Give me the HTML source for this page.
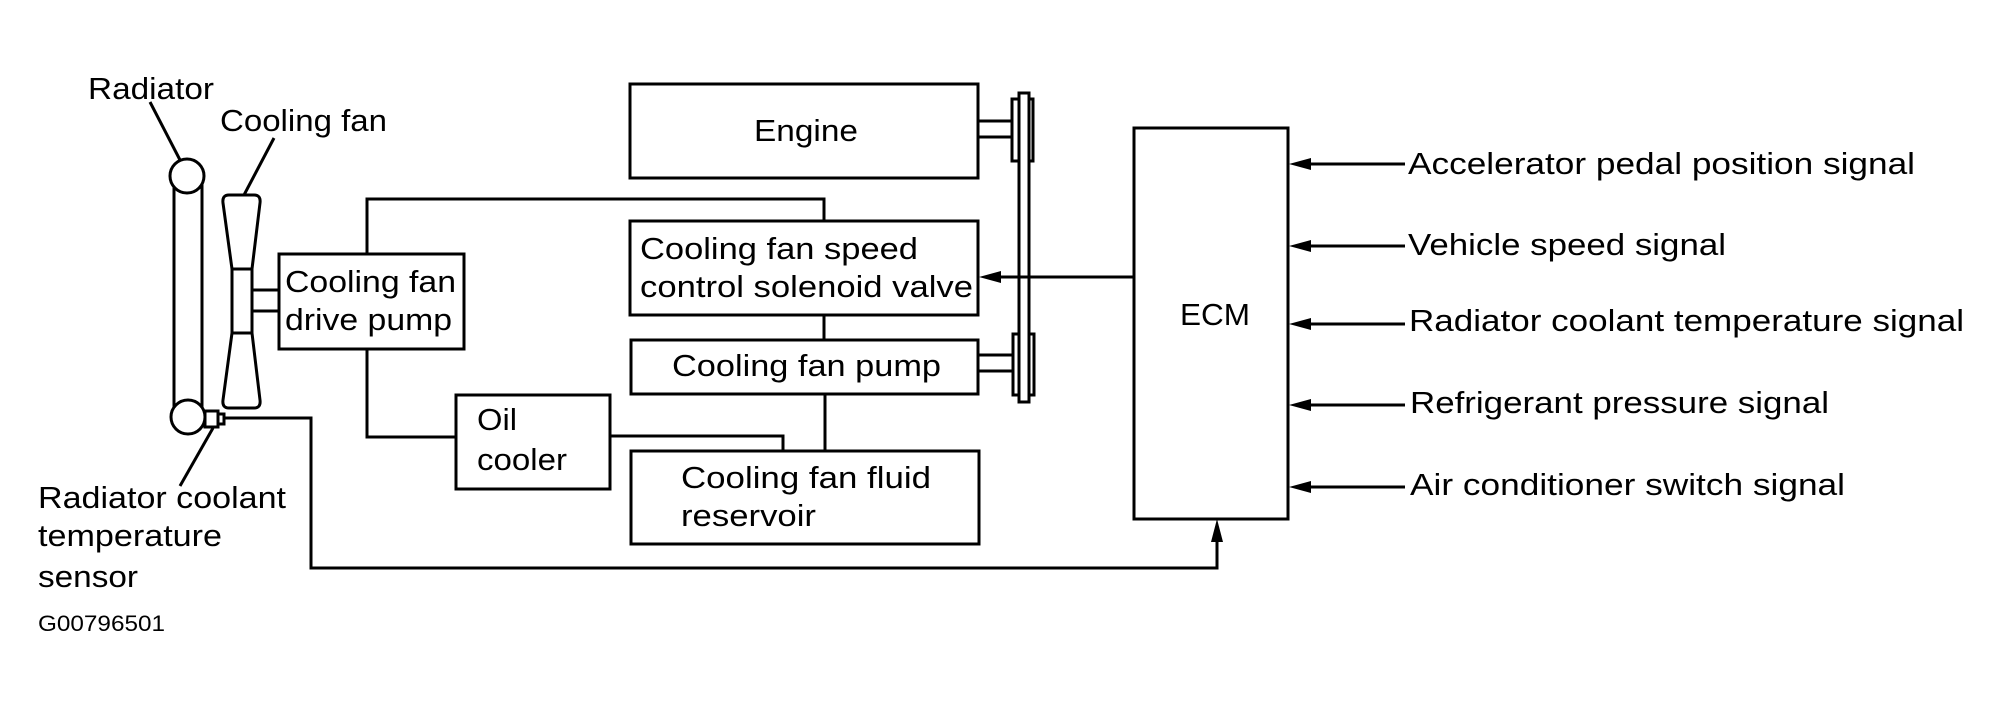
<!DOCTYPE html>
<html><head><meta charset="utf-8"><style>
html,body{margin:0;padding:0;background:#fff;}
svg{display:block;}
text{font-family:"Liberation Sans",Arial,sans-serif;font-size:31px;fill:#000;}
</style></head><body>
<svg width="2001" height="708" viewBox="0 0 2001 708" xmlns="http://www.w3.org/2000/svg">
<g fill="none" stroke="#000" stroke-width="3">
<line x1="174" y1="176" x2="174" y2="417"/>
<line x1="202" y1="176" x2="202" y2="417"/>
<circle cx="187" cy="176" r="17" fill="#fff"/>
<circle cx="188" cy="417" r="17" fill="#fff"/>
<rect x="205" y="411" width="13" height="16" fill="#fff"/>
<rect x="218" y="414" width="6" height="10" fill="#fff"/>
<line x1="150" y1="102" x2="180" y2="160"/>
<line x1="213" y1="428" x2="180" y2="486"/>
<path d="M229 195 L254 195 Q261 195 260 203 L252 269 L252 333 L260 400 Q261 408 254 408 L229 408 Q222 408 223 400 L232 333 L232 269 L223 203 Q222 195 229 195 Z"/>
<line x1="232" y1="269" x2="252" y2="269"/>
<line x1="232" y1="333" x2="252" y2="333"/>
<line x1="274" y1="138" x2="244" y2="195"/>
<line x1="252" y1="290" x2="279" y2="290"/>
<line x1="252" y1="311" x2="279" y2="311"/>
<rect x="279" y="254" width="185" height="95"/>
<rect x="456" y="395" width="154" height="94"/>
<rect x="630" y="84" width="348" height="94"/>
<rect x="630" y="221" width="348" height="94"/>
<rect x="631" y="340" width="347" height="54"/>
<rect x="631" y="451" width="348" height="93"/>
<rect x="1134" y="128" width="154" height="391"/>
<polyline points="367,254 367,199 824,199 824,221"/>
<line x1="824" y1="315" x2="824" y2="340"/>
<polyline points="367,349 367,437 456,437"/>
<polyline points="610,436 783,436 783,451"/>
<line x1="825" y1="394" x2="825" y2="451"/>
<polyline points="224,418 311,418 311,568 1217,568 1217,540"/>
<line x1="978" y1="121" x2="1012" y2="121"/>
<line x1="978" y1="137" x2="1012" y2="137"/>
<line x1="978" y1="355" x2="1013" y2="355"/>
<line x1="978" y1="371" x2="1013" y2="371"/>
<rect x="1012" y="99" width="21" height="62" fill="#fff"/>
<rect x="1013" y="334" width="21" height="61" fill="#fff"/>
<rect x="1019" y="93" width="10" height="309" fill="#fff"/>
<line x1="1134" y1="277" x2="995" y2="277"/>
<line x1="1405" y1="164" x2="1305" y2="164"/>
<line x1="1405" y1="246" x2="1305" y2="246"/>
<line x1="1405" y1="324" x2="1305" y2="324"/>
<line x1="1405" y1="405" x2="1305" y2="405"/>
<line x1="1405" y1="487" x2="1305" y2="487"/>
</g>
<g fill="#000">
<polygon points="979,277 1001,271 1001,283"/>
<polygon points="1289,164 1311,158 1311,170"/>
<polygon points="1289,246 1311,240 1311,252"/>
<polygon points="1289,324 1311,318 1311,330"/>
<polygon points="1289,405 1311,399 1311,411"/>
<polygon points="1289,487 1311,481 1311,493"/>
<polygon points="1217,519 1211,542 1223,542"/>
</g>
<text x="88" y="99" textLength="126" lengthAdjust="spacingAndGlyphs">Radiator</text>
<text x="220" y="131" textLength="167" lengthAdjust="spacingAndGlyphs">Cooling fan</text>
<text x="38" y="508" textLength="248" lengthAdjust="spacingAndGlyphs">Radiator coolant</text>
<text x="38" y="546" textLength="184" lengthAdjust="spacingAndGlyphs">temperature</text>
<text x="38" y="587" textLength="100" lengthAdjust="spacingAndGlyphs">sensor</text>
<text x="38" y="631" style="font-size:22px" textLength="127" lengthAdjust="spacingAndGlyphs">G00796501</text>
<text x="285" y="292" textLength="171" lengthAdjust="spacingAndGlyphs">Cooling fan</text>
<text x="285" y="330" textLength="167" lengthAdjust="spacingAndGlyphs">drive pump</text>
<text x="477" y="430" textLength="40" lengthAdjust="spacingAndGlyphs">Oil</text>
<text x="477" y="470" textLength="90" lengthAdjust="spacingAndGlyphs">cooler</text>
<text x="754" y="141" textLength="104" lengthAdjust="spacingAndGlyphs">Engine</text>
<text x="640" y="259" textLength="278" lengthAdjust="spacingAndGlyphs">Cooling fan speed</text>
<text x="640" y="297" textLength="333" lengthAdjust="spacingAndGlyphs">control solenoid valve</text>
<text x="672" y="376" textLength="269" lengthAdjust="spacingAndGlyphs">Cooling fan pump</text>
<text x="681" y="488" textLength="250" lengthAdjust="spacingAndGlyphs">Cooling fan fluid</text>
<text x="681" y="526" textLength="135" lengthAdjust="spacingAndGlyphs">reservoir</text>
<text x="1180" y="325" textLength="70" lengthAdjust="spacingAndGlyphs">ECM</text>
<text x="1408" y="174" textLength="507" lengthAdjust="spacingAndGlyphs">Accelerator pedal position signal</text>
<text x="1408" y="255" textLength="318" lengthAdjust="spacingAndGlyphs">Vehicle speed signal</text>
<text x="1409" y="331" textLength="555" lengthAdjust="spacingAndGlyphs">Radiator coolant temperature signal</text>
<text x="1410" y="413" textLength="419" lengthAdjust="spacingAndGlyphs">Refrigerant pressure signal</text>
<text x="1410" y="495" textLength="435" lengthAdjust="spacingAndGlyphs">Air conditioner switch signal</text>
</svg>
</body></html>
